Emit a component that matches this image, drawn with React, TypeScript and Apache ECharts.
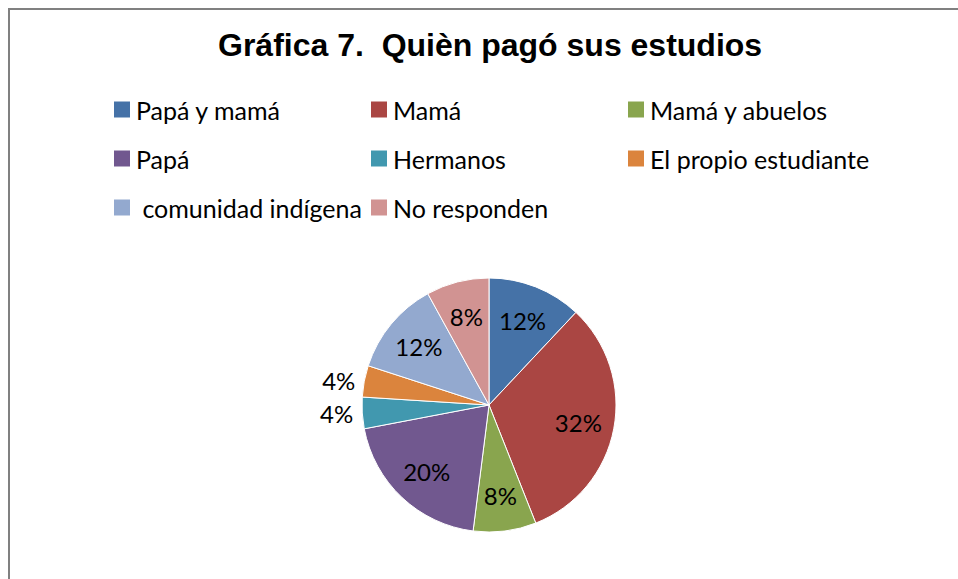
import React, { useEffect, useRef } from "react";
import * as echarts from "echarts";

const TITLE = "Gráfica 7.  Quièn pagó sus estudios";
const CATEGORIES = [
  "Papá y mamá",
  "Mamá",
  "Mamá y abuelos",
  "Papá",
  "Hermanos",
  "El propio estudiante",
  " comunidad indígena",
  "No responden",
];
const VALUES = [12, 32, 8, 20, 4, 4, 12, 8];
const COLORS = ["#4572A7", "#AA4643", "#89A54E", "#71588F", "#4198AF", "#DB843D", "#93A9CF", "#D19392"];
const OUTSIDE = [false, false, false, false, true, true, false, false];
const LEGEND_COLUMNS = [
  [0, 3, 6],
  [1, 4, 7],
  [2, 5],
];
const COLUMN_X = [112, 369, 626];

const FONT = "Lato";

export default function App() {
  const ref = useRef<HTMLDivElement>(null);
  useEffect(() => {
    document.body.style.margin = "0";
    const chart = echarts.init(ref.current!, null, { renderer: "svg" });
    const total = VALUES.reduce((a, b) => a + b, 0);
    const pct = (v: number) => Math.round((v / total) * 100) + "%";
    const legends = LEGEND_COLUMNS.map((col, i) => ({
      orient: "vertical",
      left: COLUMN_X[i],
      top: 97,
      padding: 0,
      itemWidth: 18,
      itemHeight: 18,
      itemGap: 24,
      icon: "rect",
      selectedMode: false,
      data: col.map((k) => CATEGORIES[k]),
      textStyle: { fontFamily: FONT, fontSize: 25, color: "#000", lineHeight: 25 },
    }));
    chart.setOption({
      animation: false,
      backgroundColor: "#fff",
      color: COLORS,
      title: {
        text: TITLE,
        left: 218,
        top: 29,
        padding: 0,
        textStyle: { fontFamily: "Liberation Sans", fontWeight: "bold", fontSize: 32, color: "#000" },
      },
      legend: legends,
      graphic: [
        {
          type: "rect",
          shape: { x: 9, y: 9, width: 1200, height: 1200 },
          style: { fill: "none", stroke: "#808080", lineWidth: 2 },
          silent: true,
        },
      ],
      series: [
        {
          type: "pie",
          center: [489, 405],
          radius: [0, 127],
          startAngle: 90,
          clockwise: true,
          avoidLabelOverlap: false,
          itemStyle: { borderColor: "#fff", borderWidth: 1 },
          emphasis: { disabled: true },
          labelLine: { show: false, length: 4, length2: 0 },
          data: CATEGORIES.map((name, i) => ({
            name,
            value: VALUES[i],
            label: {
              show: OUTSIDE[i],
              position: "outside",
              formatter: () => pct(VALUES[i]),
              fontFamily: FONT,
              fontSize: 24,
              color: "#000",
            },
          })),
        },
        {
          type: "pie",
          center: [489, 405],
          radius: [50, 126],
          startAngle: 90,
          clockwise: true,
          silent: true,
          legendHoverLink: false,
          itemStyle: { color: "rgba(0,0,0,0)", borderWidth: 0 },
          emphasis: { disabled: true },
          labelLine: { show: false },
          data: CATEGORIES.map((name, i) => ({
            name,
            value: VALUES[i],
            label: {
              show: !OUTSIDE[i],
              position: "inside",
              formatter: () => pct(VALUES[i]),
              fontFamily: FONT,
              fontSize: 24,
              color: "#000",
            },
          })),
        },
      ],
    });
    return () => chart.dispose();
  }, []);
  return <div ref={ref} style={{ position: "fixed", left: 0, top: 0, width: 958, height: 579 }} />;
}
